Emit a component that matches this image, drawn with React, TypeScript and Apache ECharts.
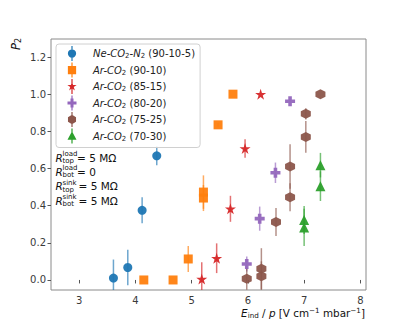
import React, { useEffect, useRef } from "react";
import * as echarts from "echarts";

const seriesNames = ["Ne-CO2-N2", "Ar-CO2 (90-10)", "Ar-CO2 (85-15)", "Ar-CO2 (80-20)", "Ar-CO2 (75-25)", "Ar-CO2 (70-30)"];
const legendRich = [
  "{i|Ne-CO}{s|2}{i|-N}{s|2}{n| (90-10-5)}",
  "{i|Ar-CO}{s|2}{n| (90-10)}",
  "{i|Ar-CO}{s|2}{n| (85-15)}",
  "{i|Ar-CO}{s|2}{n| (80-20)}",
  "{i|Ar-CO}{s|2}{n| (75-25)}",
  "{i|Ar-CO}{s|2}{n| (70-30)}",
];
const colors = ["#1f77b4", "#ff7f0e", "#d62728", "#9467bd", "#8c564b", "#2ca02c"];

const neX = [3.61, 3.865, 4.12, 4.38];
const neY = [0.01, 0.067, 0.375, 0.668];
const neE = [0.1, 0.095, 0.07, 0.05];

const ar90X = [4.15, 4.67, 4.94, 5.21, 5.21, 5.47, 5.735];
const ar90Y = [0, 0, 0.113, 0.441, 0.473, 0.835, 1.0];
const ar90E = [0, 0, 0.07, 0.07, 0.09, 0.01, 0];

const ar85X = [5.18, 5.445, 5.69, 5.95, 6.227];
const ar85Y = [0.005, 0.117, 0.383, 0.708, 1.0];
const ar85E = [0.09, 0.08, 0.07, 0.05, 0];

const ar80X = [5.98, 6.21, 6.49, 6.75];
const ar80Y = [0.086, 0.33, 0.577, 0.962];
const ar80E = [0.04, 0.065, 0.055, 0.01];

const ar75X = [5.98, 6.24, 6.24, 6.5, 6.75, 6.75, 7.03, 7.03, 7.29];
const ar75Y = [0.007, 0.061, 0.02, 0.312, 0.445, 0.611, 0.77, 0.894, 1.0];
const ar75E = [0.06, 0.11, 0.08, 0.075, 0.075, 0.12, 0.085, 0.03, 0];

const ar70X = [7.0, 7.0, 7.29, 7.29];
const ar70Y = [0.323, 0.283, 0.618, 0.505];
const ar70E = [0.075, 0.1, 0.066, 0.08];

const xTicks = [3, 4, 5, 6, 7, 8];
const yTicks = [0, 0.2, 0.4, 0.6, 0.8, 1.0, 1.2];

const annotSup = ["load", "load", "sink", "sink"];
const annotSub = ["top", "bot", "top", "bot"];
const annotRhs = ["= 5 M\u03a9", "= 0", "= 5 M\u03a9", "= 5 M\u03a9"];

const STAR = "path://M0,-1 L0.2245,-0.309 L0.951,-0.309 L0.363,0.118 L0.588,0.809 L0,0.382 L-0.588,0.809 L-0.363,0.118 L-0.951,-0.309 L-0.2245,-0.309 Z";
const PLUS = "path://M-1,-0.36 L-0.36,-0.36 L-0.36,-1 L0.36,-1 L0.36,-0.36 L1,-0.36 L1,0.36 L0.36,0.36 L0.36,1 L-0.36,1 L-0.36,0.36 L-1,0.36 Z";
const HEX = "path://M0,-1 L0.866,-0.5 L0.866,0.5 L0,1 L-0.866,0.5 L-0.866,-0.5 Z";
const symbols = ["circle", "rect", STAR, PLUS, HEX, "triangle"];
const sizes = [9, 9, 11, 10, 10, 10];

// legend icons: marker + error bar, inside a -1..1 box
const BOX = "M-1,-1 L-1,-1 Z M1,1 L1,1 Z ";
const BAR = " M-0.08,-1 L0.08,-1 L0.08,1 L-0.08,1 Z";
const legendIcons = [
  "path://" + BOX + "M-0.55,0 A0.55,0.55 0 1 1 0.55,0 A0.55,0.55 0 1 1 -0.55,0 Z" + BAR,
  "path://" + BOX + "M-0.55,-0.55 L0.55,-0.55 L0.55,0.55 L-0.55,0.55 Z" + BAR,
  "path://" + BOX + "M0,-0.65 L0.146,-0.2 L0.618,-0.2 L0.236,0.077 L0.382,0.526 L0,0.248 L-0.382,0.526 L-0.236,0.077 L-0.618,-0.2 L-0.146,-0.2 Z" + BAR,
  "path://" + BOX + "M-0.6,-0.2 L-0.2,-0.2 L-0.2,-0.6 L0.2,-0.6 L0.2,-0.2 L0.6,-0.2 L0.6,0.2 L0.2,0.2 L0.2,0.6 L-0.2,0.6 L-0.2,0.2 L-0.6,0.2 Z" + BAR,
  "path://" + BOX + "M0,-0.62 L0.537,-0.31 L0.537,0.31 L0,0.62 L-0.537,0.31 L-0.537,-0.31 Z" + BAR,
  "path://" + BOX + "M0,-0.62 L0.6,0.5 L-0.6,0.5 Z" + BAR,
];

const groups = [
  [neX, neY, neE],
  [ar90X, ar90Y, ar90E],
  [ar85X, ar85Y, ar85E],
  [ar80X, ar80Y, ar80E],
  [ar75X, ar75Y, ar75E],
  [ar70X, ar70Y, ar70E],
];

const FONT = "DejaVu Sans";

export default function App() {
  const ref = useRef<HTMLDivElement>(null);
  useEffect(() => {
    const chart = echarts.init(ref.current!, null, { renderer: "svg" });
    const series: any[] = [];
    groups.forEach((g, gi) => {
      const [xs, ys, es] = g;
      series.push({
        type: "custom",
        name: seriesNames[gi],
        clip: true,
        z: 1,
        data: xs.map((x, i) => [x, ys[i] - es[i], ys[i] + es[i]]),
        encode: { x: 0, y: [1, 2] },
        renderItem: (params: any, api: any) => {
          const p1 = api.coord([api.value(0), api.value(1)]);
          const p2 = api.coord([api.value(0), api.value(2)]);
          return {
            type: "line",
            shape: { x1: p1[0], y1: p1[1], x2: p2[0], y2: p2[1] },
            style: { stroke: colors[gi], lineWidth: 1.5, opacity: 0.65 },
          };
        },
      });
      series.push({
        type: "scatter",
        name: seriesNames[gi],
        symbol: symbols[gi],
        symbolSize: sizes[gi],
        z: 2,
        itemStyle: { color: colors[gi], opacity: 0.95 },
        data: xs.map((x, i) => [x, ys[i]]),
      });
    });

    const annot: any[] = [];
    annotSup.forEach((s, i) => {
      const yc = 157.7 + i * 14.3;
      annot.push({ type: "text", x: 55.5, y: yc, style: { text: "R", font: `italic 10.5px '${FONT}'`, fill: "#111", verticalAlign: "middle" } });
      annot.push({ type: "text", x: 62.5, y: yc - 3.8, style: { text: s, font: `7px '${FONT}'`, fill: "#111", verticalAlign: "middle" } });
      annot.push({ type: "text", x: 62.5, y: yc + 3.2, style: { text: annotSub[i], font: `7px '${FONT}'`, fill: "#111", verticalAlign: "middle" } });
      annot.push({ type: "text", x: i >= 2 ? 78.5 : 77, y: yc, style: { text: annotRhs[i], font: `10.5px '${FONT}'`, fill: "#111", verticalAlign: "middle" } });
    });

    chart.setOption({
      animation: false,
      color: colors,
      grid: { left: 51, right: 41, top: 39, bottom: 36, show: true, borderColor: "#8a8a8a", borderWidth: 1, backgroundColor: "transparent" },
      xAxis: {
        type: "value",
        min: 2.5,
        max: 8.1,
        splitLine: { show: false },
        axisLine: { show: false },
        axisTick: { show: true, inside: false, length: 3.5, lineStyle: { color: "#555" }, customValues: xTicks },
        axisLabel: { color: "#3a3a3a", fontFamily: FONT, fontSize: 10, margin: 5, customValues: xTicks, formatter: (v: number) => String(v) },
      },
      yAxis: {
        type: "value",
        min: -0.054,
        max: 1.297,
        splitLine: { show: false },
        axisLine: { show: false },
        axisTick: { show: true, inside: false, length: 3.5, lineStyle: { color: "#555" }, customValues: yTicks },
        axisLabel: { color: "#3a3a3a", fontFamily: FONT, fontSize: 10, margin: 5, customValues: yTicks, formatter: (v: number) => v.toFixed(1) },
      },
      legend: {
        orient: "vertical",
        left: 56,
        top: 44,
        padding: [2, 5, 4, 8.5],
        itemWidth: 15,
        itemHeight: 15,
        itemGap: 1.5,
        borderColor: "#d0d0d0",
        borderWidth: 1,
        borderRadius: 3,
        backgroundColor: "rgba(255,255,255,0.8)",
        data: seriesNames.map((n, i) => ({ name: n, icon: legendIcons[i] })),
        formatter: (name: string) => legendRich[seriesNames.indexOf(name)],
        textStyle: {
          padding: [0, 0, 0, 8.5],
          rich: {
            i: { fontFamily: FONT, fontStyle: "italic", fontSize: 10, color: "#222", lineHeight: 12 },
            n: { fontFamily: FONT, fontSize: 10, color: "#222", lineHeight: 12 },
            s: { fontFamily: FONT, fontSize: 7, color: "#222", lineHeight: 12, padding: [5, 0, 0, 0] },
          },
        },
      },
      graphic: [
        ...annot,
        {
          type: "text",
          x: 16,
          y: 44,
          rotation: Math.PI / 2,
          style: {
            text: "{i|P}{s|2}",
            align: "center",
            verticalAlign: "middle",
            rich: {
              i: { fontFamily: FONT, fontStyle: "italic", fontSize: 11.5, fill: "#111", lineHeight: 14 },
              s: { fontFamily: FONT, fontSize: 8, fill: "#111", lineHeight: 14, padding: [5, 0, 0, 0] },
            },
          },
        },
        {
          type: "text",
          x: 365,
          y: 313,
          style: {
            text: "{i|E}{b|ind}{n| / }{i|p}{n| [V cm}{t|\u22121}{n| mbar}{t|\u22121}{n|]}",
            align: "right",
            verticalAlign: "middle",
            rich: {
              i: { fontFamily: FONT, fontStyle: "italic", fontSize: 10.4, fill: "#111", lineHeight: 14 },
              n: { fontFamily: FONT, fontSize: 10.4, fill: "#111", lineHeight: 14 },
              b: { fontFamily: FONT, fontSize: 7.2, fill: "#111", lineHeight: 14, padding: [5, 0, 0, 0] },
              t: { fontFamily: FONT, fontSize: 7.2, fill: "#111", lineHeight: 14, padding: [0, 0, 6, 0] },
            },
          },
        },
      ],
      series,
    });
    return () => chart.dispose();
  }, []);
  return <div ref={ref} style={{ position: "fixed", left: 0, top: 0, width: 407, height: 326, background: "#fff" }} />;
}
